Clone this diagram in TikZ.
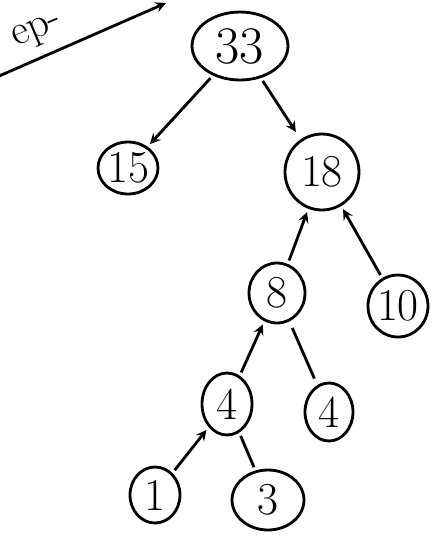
\documentclass[tikz,border=0pt]{standalone}
\usetikzlibrary{arrows,shapes.geometric}
\tikzset{every picture/.style={line width=1.6pt}}
\tikzset{
  huff/.style={draw,ellipse,inner sep=0pt,font=\fontsize{26}{26}\selectfont},
  link/.style={shorten >=2pt,shorten <=2pt}
}

\begin{document}
\begin{tikzpicture}[>=stealth,x=0.02cm,y=-0.02cm]
  \useasboundingbox (0,0) rectangle (435,539);
  \clip (0,0) rectangle (435,539);
  % step heading
  \coordinate (s1) at (-10,80);
  \coordinate (s2) at (166,3);
  \draw[->] (s1) -- (s2);
  \node[rotate=23,font=\fontsize{24}{24}\selectfont,inner sep=0pt] (steplabel) at (38,32) {ep-};

  \node[huff,minimum width=1.92cm,minimum height=1.36cm,font=\fontsize{30}{30}\selectfont] (n33) at (240,46) {33};
  \node[huff,minimum width=1.2cm,minimum height=1.04cm] (n15) at (128,168) {15};
  \node[huff,minimum width=1.48cm,minimum height=1.52cm] (n18) at (322,172) {18};
  \node[huff,minimum width=1.12cm,minimum height=1.2cm] (n8) at (277,293) {8};
  \node[huff,minimum width=1.2cm,minimum height=1.24cm] (n10) at (398,306) {10};
  \node[huff,minimum width=1.0cm,minimum height=1.24cm] (n4a) at (227,404) {4};
  \node[huff,minimum width=0.96cm,minimum height=1.16cm] (n4b) at (329,412) {4};
  \node[huff,minimum width=1.0cm,minimum height=1.12cm] (n1) at (155,495) {1};
  \node[huff,minimum width=1.44cm,minimum height=1.2cm] (n3) at (268,500) {3};

  \draw[->,link] (n33) -- (n15);
  \draw[->,link,shorten >=5pt] (n33) -- (n18);
  \draw[->,link] (n8) -- (n18);
  \draw[->,link] (n10) -- (n18);
  \draw[->,link] (n4a) -- (n8);
  \draw[link,shorten <=4pt,shorten >=4pt] (n4b) -- (n8);
  \draw[->,link] (n1) -- (n4a);
  \draw[link] (n3) -- (n4a);
\end{tikzpicture}
\end{document}
